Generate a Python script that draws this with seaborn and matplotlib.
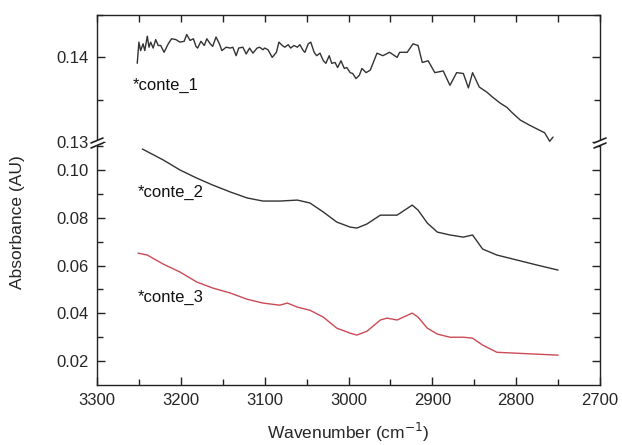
import numpy as np
import pandas as pd
import matplotlib
matplotlib.use("Agg")
import matplotlib.pyplot as plt
from matplotlib.lines import Line2D
from matplotlib.patches import Polygon
from matplotlib.ticker import MultipleLocator, FixedLocator
import seaborn as sns

# ---------------- data ----------------
wn_1 = [3252, 3250, 3248, 3245, 3243, 3240, 3238, 3236, 3233, 3230, 3227, 3224, 3220, 3215,
        3211, 3206, 3201, 3196, 3193, 3189, 3185, 3182, 3180, 3176, 3172, 3169, 3165, 3162,
        3158, 3154, 3151, 3146, 3141, 3138, 3134, 3131, 3126, 3122, 3118, 3114, 3109, 3106,
        3102, 3100, 3096, 3091, 3086, 3083, 3079, 3076, 3072, 3069, 3065, 3061, 3058, 3054,
        3052, 3048, 3045, 3041, 3038, 3034, 3030, 3027, 3023, 3020, 3016, 3013, 3009, 3005,
        3002, 2998, 2995, 2991, 2987, 2984, 2979, 2974, 2966, 2959, 2951, 2942, 2939, 2930,
        2923, 2917, 2912, 2905, 2897, 2887, 2879, 2871, 2863, 2857, 2852, 2844, 2835, 2828,
        2819, 2811, 2804, 2795, 2784, 2772, 2766, 2760, 2756]
abs_1 = [0.1393, 0.1418, 0.1408, 0.1416, 0.1408, 0.1425, 0.1412, 0.1418, 0.1411, 0.1421,
         0.1414, 0.1414, 0.1406, 0.1416, 0.1422, 0.1421, 0.1418, 0.1419, 0.1427, 0.1420,
         0.1422, 0.1413, 0.1411, 0.1419, 0.1414, 0.1422, 0.1416, 0.1413, 0.1424, 0.1416,
         0.1408, 0.1412, 0.1411, 0.1412, 0.1402, 0.1411, 0.1412, 0.1404, 0.1411, 0.1405,
         0.1411, 0.1412, 0.1409, 0.1411, 0.1409, 0.1400, 0.1406, 0.1418, 0.1414, 0.1412,
         0.1415, 0.1411, 0.1414, 0.1412, 0.1415, 0.1408, 0.1406, 0.1416, 0.1418, 0.1406,
         0.1402, 0.1405, 0.1396, 0.1393, 0.1402, 0.1393, 0.1394, 0.1388, 0.1396, 0.1387,
         0.1388, 0.1382, 0.1381, 0.1375, 0.1379, 0.1387, 0.1382, 0.1385, 0.1405, 0.1402,
         0.1406, 0.1400, 0.1406, 0.1406, 0.1416, 0.1414, 0.1394, 0.1396, 0.1382, 0.1384,
         0.1367, 0.1382, 0.1381, 0.1364, 0.1382, 0.1365, 0.1359, 0.1353, 0.1346, 0.1341,
         0.1334, 0.1326, 0.1320, 0.1314, 0.1311, 0.1301, 0.1306]

wn_2 = [3246, 3221, 3201, 3181, 3162, 3141, 3121, 3102, 3082, 3061, 3046, 3030, 3014, 2998,
        2990, 2978, 2962, 2954, 2942, 2924, 2917, 2906, 2894, 2879, 2863, 2852, 2840, 2823,
        2799, 2775, 2750]
abs_2 = [0.1088, 0.1042, 0.1000, 0.0966, 0.0937, 0.0908, 0.0883, 0.0870, 0.0870, 0.0874,
         0.0862, 0.0824, 0.0782, 0.0761, 0.0757, 0.0774, 0.0811, 0.0811, 0.0811, 0.0853,
         0.0832, 0.0778, 0.0740, 0.0728, 0.0719, 0.0728, 0.0669, 0.0644, 0.0623, 0.0602,
         0.0581]

wn_3 = [3251, 3240, 3221, 3201, 3181, 3162, 3141, 3121, 3102, 3082, 3073, 3061, 3046, 3030,
        3014, 2998, 2990, 2978, 2962, 2954, 2942, 2924, 2917, 2906, 2894, 2879, 2863, 2852,
        2840, 2823, 2799, 2775, 2750]
abs_3 = [0.0652, 0.0644, 0.0606, 0.0573, 0.0531, 0.0506, 0.0485, 0.0459, 0.0443, 0.0434,
         0.0443, 0.0426, 0.0413, 0.0384, 0.0338, 0.0317, 0.0309, 0.0325, 0.0372, 0.0380,
         0.0372, 0.0401, 0.0384, 0.0338, 0.0313, 0.0300, 0.0300, 0.0296, 0.0267, 0.0237,
         0.0233, 0.0229, 0.0225]

labels = ["*conte_1", "*conte_2", "*conte_3"]
label_pos = [(3257, 0.1367), (3252, 0.0904), (3252, 0.0468)]

x_ticks = [3300, 3200, 3100, 3000, 2900, 2800, 2700]
top_yticks = [0.13, 0.14]
bot_yticks = [0.02, 0.04, 0.06, 0.08, 0.10]

# ---------------- style ----------------
sns.set_style("ticks")
plt.rcParams['font.family'] = ['Liberation Sans', 'DejaVu Sans']

W, H = 622, 445
fig = plt.figure(figsize=(W / 100, H / 100), dpi=100)
fig.patch.set_facecolor("white")

def fx(px):
    return px / W

def fy(py):
    return 1 - py / H

left, right, top, brk, bottom = 97, 600, 15, 143, 385
ax_top = fig.add_axes([fx(left), fy(brk), fx(right - left), (brk - top) / H])
ax_bot = fig.add_axes([fx(left), fy(bottom), fx(right - left), (bottom - brk) / H])

dark = "#333333"
red = "#cc4a55"

df1 = pd.DataFrame({"wn": wn_1, "abs": abs_1})
df2 = pd.DataFrame({"wn": wn_2, "abs": abs_2})
df3 = pd.DataFrame({"wn": wn_3, "abs": abs_3})

sns.lineplot(data=df1, x="wn", y="abs", ax=ax_top, color=dark, lw=1.0, sort=False)
sns.lineplot(data=df2, x="wn", y="abs", ax=ax_bot, color=dark, lw=1.0, sort=False)
sns.lineplot(data=df3, x="wn", y="abs", ax=ax_bot, color=red, lw=1.0, sort=False)

for ax in (ax_top, ax_bot):
    ax.set_xlim(3300, 2700)
    ax.set_facecolor("white")
    ax.set_xlabel("")
    ax.set_ylabel("")
    for s in ax.spines.values():
        s.set_color("#222222")
        s.set_linewidth(1.0)
    ax.xaxis.set_major_locator(FixedLocator(x_ticks))
    ax.xaxis.set_minor_locator(MultipleLocator(50))

ax_top.set_ylim(0.1299, 0.1450)
ax_bot.set_ylim(0.010, 0.1113)

ax_top.spines['bottom'].set_visible(False)
ax_bot.spines['top'].set_visible(False)

ax_top.yaxis.set_major_locator(FixedLocator(top_yticks))
ax_top.yaxis.set_minor_locator(FixedLocator([0.135, 0.145]))
ax_bot.yaxis.set_major_locator(FixedLocator(bot_yticks))
ax_bot.yaxis.set_minor_locator(FixedLocator([0.03, 0.05, 0.07, 0.09, 0.11]))

ax_top.tick_params(axis='x', which='both', bottom=False, top=True, labelbottom=False,
                   direction='in', length=5, width=1.0, color="#222222")
ax_bot.tick_params(axis='x', which='major', bottom=True, top=False, direction='in',
                   length=6, width=1.0, labelsize=12, pad=6, color="#222222")
ax_bot.tick_params(axis='x', which='minor', bottom=True, top=False, direction='in',
                   length=4, width=1.0, color="#222222")
for ax in (ax_top, ax_bot):
    ax.tick_params(axis='y', which='major', left=True, right=True, direction='in',
                   length=6, width=1.0, labelsize=12, pad=6, color="#222222")
    ax.tick_params(axis='y', which='minor', left=True, right=True, direction='in',
                   length=4, width=1.0, color="#222222")

ax_top.yaxis.set_major_formatter(matplotlib.ticker.FormatStrFormatter("%.2f"))
ax_bot.yaxis.set_major_formatter(matplotlib.ticker.FormatStrFormatter("%.2f"))

# series labels
ax_top.text(label_pos[0][0], label_pos[0][1], labels[0], fontsize=12, ha='left', va='center', color="#111111")
ax_bot.text(label_pos[1][0], label_pos[1][1], labels[1], fontsize=12, ha='left', va='center', color="#111111")
ax_bot.text(label_pos[2][0], label_pos[2][1], labels[2], fontsize=12, ha='left', va='center', color="#111111")

# axis labels
fig.text(fx(348), fy(432), "Wavenumber (cm$^{-1}$)", fontsize=12.5, ha='center', va='center')
fig.text(fx(18), fy(222), "Absorbance (AU)", fontsize=12.5, ha='center', va='center', rotation=90)

# axis-break marks
for cx in (left, right):
    cy = brk
    dx, dy, g = 6, 2.5, 2.5
    poly = Polygon([(fx(cx - dx), fy(cy + dy + g)), (fx(cx + dx), fy(cy - dy + g)),
                    (fx(cx + dx), fy(cy - dy - g)), (fx(cx - dx), fy(cy + dy - g))],
                   closed=True, transform=fig.transFigure, facecolor="white",
                   edgecolor="none", zorder=10)
    fig.add_artist(poly)
    for off in (g, -g):
        fig.add_artist(Line2D([fx(cx - dx), fx(cx + dx)],
                              [fy(cy + dy + off), fy(cy - dy + off)],
                              transform=fig.transFigure, color="#222222", lw=1.2, zorder=11))

fig.savefig("out.png", dpi=100, facecolor="white")
